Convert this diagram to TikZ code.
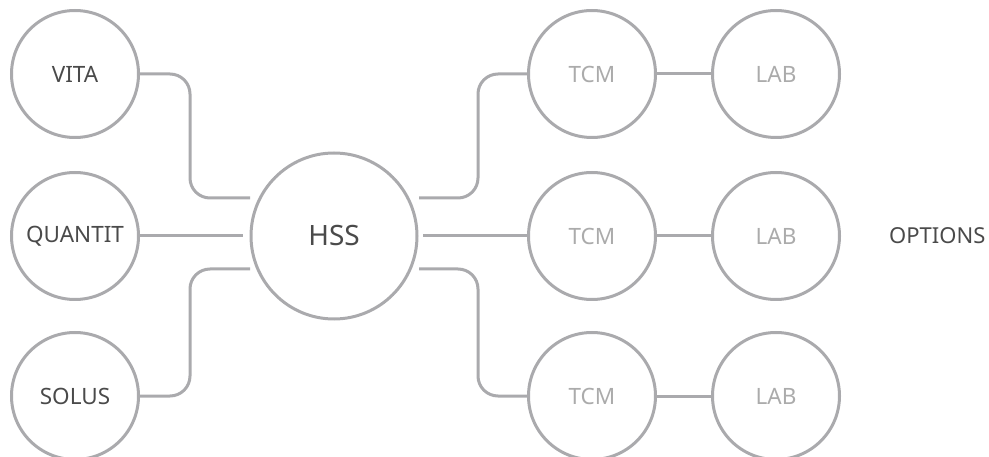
\documentclass[tikz,border=0pt]{standalone}
\usepackage{fontspec}
\setmainfont{Noto Sans}
\usetikzlibrary{calc}
\definecolor{stroke}{HTML}{AAAAAD}
\definecolor{darktxt}{HTML}{4A4A4A}
\definecolor{lighttxt}{HTML}{ABABAB}
\begin{document}
\begin{tikzpicture}[x=1pt,y=-1pt,
  circ/.style={circle,draw=stroke,line width=3pt,minimum size=127pt,inner sep=0pt,
    font=\fontsize{22.5}{26}\selectfont,text=darktxt},
  lightcirc/.style={circ,text=lighttxt},
  bigcirc/.style={circ,minimum size=166pt,font=\fontsize{28}{32}\selectfont},
  conn/.style={draw=stroke,line width=3pt,rounded corners=20pt},
  label/.style={font=\fontsize{22}{26}\selectfont,text=darktxt,inner sep=0pt}]
\useasboundingbox (0,0) rectangle (989,457);
% left column
\node[circ] (vita) at (75,74) {VITA};
\node[circ] (quant) at (75,236) {QUANTIT};
\node[circ] (solus) at (75,396) {SOLUS};
% hub
\node[bigcirc] (hss) at (334,236) {HSS};
% right columns
\node[lightcirc] (tcma) at (592,74) {TCM};
\node[lightcirc] (laba) at (776,74) {LAB};
\node[lightcirc] (tcmb) at (592,236) {TCM};
\node[lightcirc] (labb) at (776,236) {LAB};
\node[lightcirc] (tcmc) at (592,396) {TCM};
\node[lightcirc] (labc) at (776,396) {LAB};
\node[label,anchor=west] (opt) at (889,236) {OPTIONS};
% connector end points near hub
\coordinate (hla) at (250,198);
\coordinate (hlb) at (243,236);
\coordinate (hlc) at (250,269);
\coordinate (hra) at (419,198);
\coordinate (hrb) at (423,236);
\coordinate (hrc) at (419,269);
\coordinate (lbus) at (190,236);
\coordinate (rbus) at (478,236);
% left connectors
\draw[conn] (vita.east) -| (lbus |- hla) -- (hla);
\draw[conn] (quant.east) -- (hlb);
\draw[conn] (solus.east) -| (lbus |- hlc) -- (hlc);
% right connectors
\draw[conn] (hra) -| (rbus |- tcma.west) -- (tcma.west);
\draw[conn] (hrb) -- (tcmb.west);
\draw[conn] (hrc) -| (rbus |- tcmc.west) -- (tcmc.west);
\draw[conn] (tcma.east) -- (laba.west);
\draw[conn] (tcmb.east) -- (labb.west);
\draw[conn] (tcmc.east) -- (labc.west);
\end{tikzpicture}
\end{document}
